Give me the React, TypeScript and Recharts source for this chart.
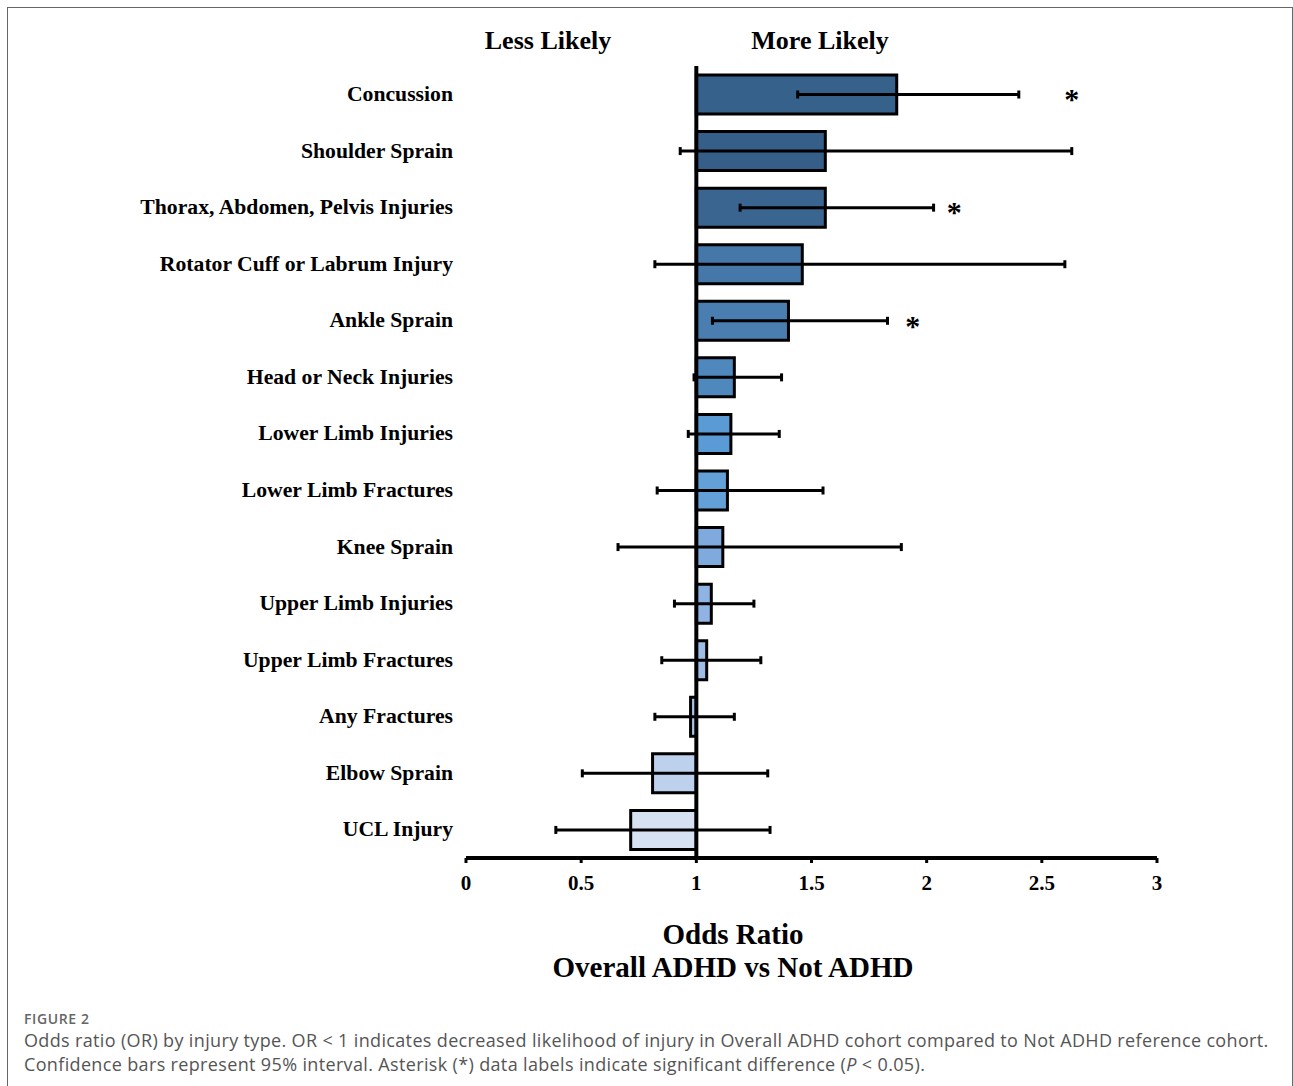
import React from 'react';
import { BarChart, Bar, XAxis, YAxis, ErrorBar, Cell, ReferenceLine, ReferenceDot } from 'recharts';

const categories = [
  'Concussion',
  'Shoulder Sprain',
  'Thorax, Abdomen, Pelvis Injuries',
  'Rotator Cuff or Labrum Injury',
  'Ankle Sprain',
  'Head or Neck Injuries',
  'Lower Limb Injuries',
  'Lower Limb Fractures',
  'Knee Sprain',
  'Upper Limb Injuries',
  'Upper Limb Fractures',
  'Any Fractures',
  'Elbow Sprain',
  'UCL Injury',
];
const oddsRatios = [1.87, 1.56, 1.56, 1.46, 1.4, 1.165, 1.15, 1.135, 1.115, 1.065, 1.045, 0.975, 0.81, 0.715];
const ciLower = [1.44, 0.93, 1.19, 0.82, 1.07, 0.99, 0.965, 0.83, 0.66, 0.905, 0.85, 0.82, 0.505, 0.39];
const ciUpper = [2.4, 2.63, 2.03, 2.6, 1.83, 1.37, 1.36, 1.55, 1.89, 1.25, 1.28, 1.165, 1.31, 1.32];
const barColors = [
  '#36618b', '#355f88', '#3a6591', '#4577a8', '#4a7db0', '#4f88bd', '#5b9bd5',
  '#64a0d8', '#7eaadd', '#8fb4e3', '#9dbde6', '#abc6ea', '#bdd0ec', '#d6e1f2',
];
const xTicks = [0, 0.5, 1, 1.5, 2, 2.5, 3];
const sigCategories = ['Concussion', 'Thorax, Abdomen, Pelvis Injuries', 'Ankle Sprain'];
const sigLabelX = [2.63, 2.12, 1.94];

const data = categories.map((name, i) => ({
  name,
  or: oddsRatios[i],
  range: [1, oddsRatios[i]],
  err: [oddsRatios[i] - ciLower[i], ciUpper[i] - oddsRatios[i]],
}));

const serif = '"Liberation Serif", "Times New Roman", serif';
const sans = '"Open Sans", "Noto Sans", sans-serif';

export default function App() {
  return (
    <div style={{ position: 'absolute', left: 0, top: 0, width: 1293, height: 1086, overflow: 'hidden', background: '#fff' }}>
      <div
        style={{
          position: 'absolute', left: 7, top: 7, width: 1284, height: 1200,
          borderLeft: '1.5px solid #666', borderTop: '1.5px solid #666', borderRight: '1.5px solid #666',
        }}
      />
      <div style={{ position: 'absolute', left: 0, top: 0 }}>
        <BarChart
          width={1293}
          height={1086}
          data={data}
          layout="vertical"
          margin={{ top: 66, right: 136, bottom: 198, left: 0 }}
          barGap={-39}
        >
          <XAxis
            type="number"
            domain={[0, 3]}
            ticks={xTicks}
            axisLine={{ stroke: '#000', strokeWidth: 4 }}
            tickLine={{ stroke: '#000', strokeWidth: 3 }}
            tickSize={5}
            tickMargin={12}
            height={30}
            tick={{ fill: '#000', fontSize: 21, fontWeight: 'bold', fontFamily: serif }}
          />
          <YAxis
            type="category"
            dataKey="name"
            width={466}
            axisLine={false}
            tickLine={false}
            tickSize={6}
            tickMargin={7}
            interval={0}
            tick={{ fill: '#000', fontSize: 21.7, fontWeight: 'bold', fontFamily: serif, dy: -1 }}
          />
          <Bar dataKey="range" barSize={39} stroke="#000" strokeWidth={3} isAnimationActive={false}>
            {data.map((d, i) => (
              <Cell key={d.name} fill={barColors[i]} />
            ))}
          </Bar>
          <Bar dataKey="or" barSize={39} fill="transparent" stroke="none" isAnimationActive={false}>
            <ErrorBar dataKey="err" direction="x" width={4} stroke="#000" strokeWidth={3} isAnimationActive={false} />
          </Bar>
          <ReferenceLine x={1} stroke="#000" strokeWidth={4} />
          {sigCategories.map((c, i) => (
            <ReferenceDot
              key={c}
              x={sigLabelX[i]}
              y={c}
              r={0}
              fill="none"
              stroke="none"
              label={{
                position: 'center',
                content: (p: any) => (
                  <text
                    x={p.viewBox.x + (p.viewBox.width || 0) / 2}
                    y={p.viewBox.y + (p.viewBox.height || 0) / 2 + 15}
                    textAnchor="middle"
                    fontSize={30}
                    fontFamily={serif}
                    fontWeight="bold"
                    fill="#000"
                  >
                    *
                  </text>
                ),
              }}
            />
          ))}
        </BarChart>
      </div>
      <div style={{ position: 'absolute', left: 448, top: 26, width: 200, textAlign: 'center', fontFamily: serif, fontWeight: 'bold', fontSize: 26, color: '#000' }}>
        Less Likely
      </div>
      <div style={{ position: 'absolute', left: 720, top: 26, width: 200, textAlign: 'center', fontFamily: serif, fontWeight: 'bold', fontSize: 26, color: '#000' }}>
        More Likely
      </div>
      <div style={{ position: 'absolute', left: 433, top: 918, width: 600, textAlign: 'center', fontFamily: serif, fontWeight: 'bold', fontSize: 29, lineHeight: '33px', color: '#000' }}>
        Odds Ratio
        <br />
        Overall ADHD vs Not ADHD
      </div>
      <div style={{ position: 'absolute', left: 24, top: 1009, fontFamily: sans, fontSize: 14, letterSpacing: '0.6px', fontWeight: 600, color: '#666' }}>
        FIGURE 2
      </div>
      <div style={{ position: 'absolute', left: 24, top: 1028, width: 1262, fontFamily: sans, fontSize: 18, letterSpacing: '0.35px', lineHeight: '24px', color: '#555', whiteSpace: 'nowrap' }}>
        Odds ratio (OR) by injury type. OR &lt; 1 indicates decreased likelihood of injury in Overall ADHD cohort compared to Not ADHD reference cohort.
        <br />
        Confidence bars represent 95% interval. Asterisk (*) data labels indicate significant difference (<i>P</i> &lt; 0.05).
      </div>
    </div>
  );
}
